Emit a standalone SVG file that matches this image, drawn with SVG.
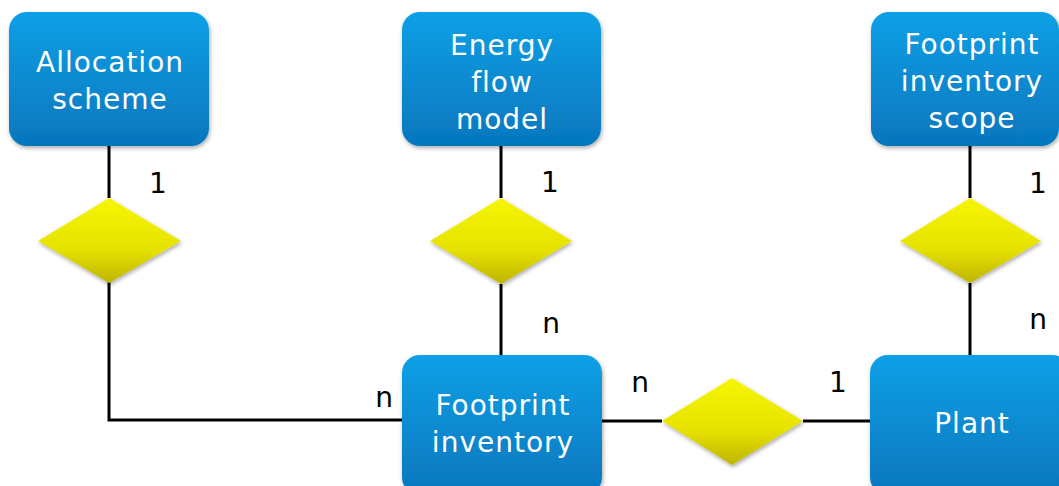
<svg xmlns="http://www.w3.org/2000/svg" width="1059" height="486" viewBox="0 0 1059 486">
<defs>
<linearGradient id="gb" x1="0" y1="0" x2="0" y2="1"><stop offset="0" stop-color="#0ca0e6"/><stop offset="1" stop-color="#0676bd"/></linearGradient>
<linearGradient id="gy" x1="0" y1="0" x2="0" y2="1"><stop offset="0" stop-color="#f6f600"/><stop offset="0.6" stop-color="#e6e200"/><stop offset="1" stop-color="#bfb400"/></linearGradient>
<filter id="sh" x="-10%" y="-10%" width="130%" height="130%"><feGaussianBlur in="SourceAlpha" stdDeviation="2"/><feOffset dx="1" dy="2"/><feComponentTransfer><feFuncA type="linear" slope="0.35"/></feComponentTransfer><feMerge><feMergeNode/><feMergeNode in="SourceGraphic"/></feMerge></filter>
</defs>
<style>
.box{fill:url(#gb);filter:url(#sh)}
.dia{fill:url(#gy);filter:url(#sh)}
.bt{font-family:"DejaVu Sans",Verdana,sans-serif;font-size:28px;fill:#fff;text-anchor:middle;letter-spacing:1px}
.lb{font-family:"DejaVu Sans",Verdana,sans-serif;font-size:28px;fill:#000;text-anchor:middle}
.ln{stroke:#000;stroke-width:3;fill:none}
</style>
<rect width="1059" height="486" fill="#fff"/>
<g id="connectors">
<path class="ln" d="M109 146V198M109 282V420H403"/>
<path class="ln" d="M501 146V198M501 284V356"/>
<path class="ln" d="M970 146V198M970 283V356"/>
<path class="ln" d="M601 421H662M803 421H871"/>
</g>
<g id="rel1"><polygon class="dia" points="109,198 181,241 109,283 38,241"/></g>
<g id="rel2"><polygon class="dia" points="501,198 572,241 501,284 430,241"/></g>
<g id="rel3"><polygon class="dia" points="970,198 1041,241 970,283 900,241"/></g>
<g id="rel4"><polygon class="dia" points="732,378 803,421 732,465 662,421"/></g>
<g id="allocation"><rect class="box" x="9" y="12" width="200" height="134" rx="18"/><text class="bt" x="110" y="72">Allocation</text><text class="bt" x="110" y="109">scheme</text></g>
<g id="energy"><rect class="box" x="402" y="12" width="199" height="134" rx="18"/><text class="bt" x="502" y="55">Energy</text><text class="bt" x="502" y="92">flow</text><text class="bt" x="502" y="129">model</text></g>
<g id="scope"><rect class="box" x="871" y="12" width="188" height="134" rx="18"/><text class="bt" x="972" y="54">Footprint</text><text class="bt" x="972" y="91">inventory</text><text class="bt" x="972" y="128">scope</text></g>
<g id="inventory"><rect class="box" x="402" y="355" width="200" height="140" rx="18"/><text class="bt" x="503" y="415">Footprint</text><text class="bt" x="503" y="452">inventory</text></g>
<g id="plant"><rect class="box" x="870" y="355" width="200" height="140" rx="18"/><text class="bt" x="972" y="433">Plant</text></g>
<g id="labels">
<text class="lb" x="158" y="193">1</text>
<text class="lb" x="550" y="192">1</text>
<text class="lb" x="1038" y="193">1</text>
<text class="lb" x="551" y="333">n</text>
<text class="lb" x="1038" y="329">n</text>
<text class="lb" x="384" y="407">n</text>
<text class="lb" x="640" y="392">n</text>
<text class="lb" x="838" y="392">1</text>
</g>
</svg>
